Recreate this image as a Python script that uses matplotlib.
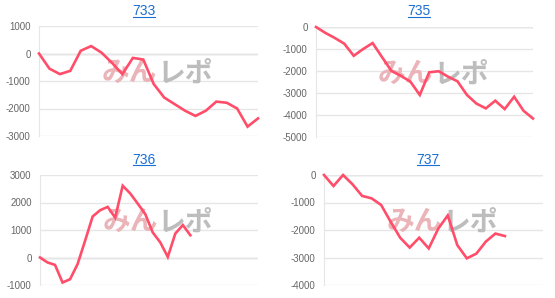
import matplotlib
matplotlib.use("Agg")
import matplotlib.pyplot as plt
from matplotlib.lines import Line2D

plt.rcParams["font.family"] = ["Liberation Sans", "DejaVu Sans"]
plt.rcParams["axes.unicode_minus"] = False

# ── Data ─────────────────────────────────────────────────────────────────
titles = ["733", "735", "736", "737"]

vals_733 = [0, -550, -750, -630, 100, 270, 30, -340, -750, -160, -220,
            -1110, -1600, -1840, -2080, -2270, -2080, -1750, -1790, -2000,
            -2660, -2360]
vals_735 = [0, -270, -500, -760, -1310, -1000, -730, -1370, -2000, -2220,
            -2480, -3090, -2060, -2010, -2260, -2470, -3090, -3480, -3700,
            -3350, -3730, -3170, -3810, -4160]
vals_736 = [0, -180, -270, -910, -790, -240, 610, 1490, 1720, 1840, 1450,
            2610, 2330, 1960, 1580, 910, 550, 20, 870, 1180, 810]
vals_737 = [0, -400, 0, -340, -760, -850, -1090, -1700, -2280, -2640, -2280,
            -2670, -1950, -1470, -2550, -3030, -2860, -2420, -2130, -2220]

series = [vals_733, vals_735, vals_736, vals_737]
x_slots = [22, 24, 30, 24]          # number of x categories per chart
y_ranges = [(-3000, 1000), (-5000, 0), (-1000, 3000), (-4000, 0)]

# ── Layout (pixel boxes in a 555x298 canvas) ─────────────────────────────
W, H = 555, 298
boxes = [(39, 26, 258, 136), (316, 27, 533, 137),
         (40, 175, 258, 285), (324, 175, 543, 285)]
title_pos = [(144, 11), (419, 11), (144, 160), (428, 160)]

LINE_COLOR = "#ff4d6a"
GRID_COLOR = "#e6e6e6"
LINK_COLOR = "#1a6fd4"
CJK = ["Noto Sans CJK JP", "DejaVu Sans"]

fig = plt.figure(figsize=(W / 100, H / 100), dpi=100)

for i, vals in enumerate(series):
    x0, y0, x1, y1 = boxes[i]
    ax = fig.add_axes([x0 / W, 1 - y1 / H, (x1 - x0) / W, (y1 - y0) / H])
    lo, hi = y_ranges[i]
    ax.set_xlim(0, x_slots[i] - 1)
    ax.set_ylim(lo, hi)
    ax.set_yticks(range(lo, hi + 1, 1000))
    ax.set_xticks([])
    ax.grid(axis="y", color=GRID_COLOR, linewidth=1)
    ax.axhline(0, color="#cccccc", linewidth=1, zorder=1)
    for side in ["top", "right", "bottom"]:
        ax.spines[side].set_visible(False)
    ax.spines["left"].set_color(GRID_COLOR)
    ax.tick_params(axis="y", length=0, pad=6, labelsize=7, labelcolor="#666666")

    # watermark logo
    ax.text(0.54, 0.57, "みん", transform=ax.transAxes, ha="right", va="center",
            fontsize=20, fontweight="bold", color="#eab4b8", family=CJK, zorder=2)
    ax.text(0.54, 0.57, "レポ", transform=ax.transAxes, ha="left", va="center",
            fontsize=20, fontweight="bold", color="#bdbdbd", family=CJK, zorder=2)

    ax.plot(range(len(vals)), vals, color=LINE_COLOR, linewidth=1.9,
            solid_joinstyle="miter", zorder=3, clip_on=False)

    # underlined title link
    tx, ty = title_pos[i]
    fig.text(tx / W, 1 - ty / H, titles[i], ha="center", va="center",
             fontsize=10, color=LINK_COLOR)
    fig.add_artist(Line2D([(tx - 11) / W, (tx + 11) / W],
                          [1 - (ty + 5.5) / H, 1 - (ty + 5.5) / H],
                          color=LINK_COLOR, linewidth=0.8))

fig.savefig("out.png", dpi=100)
